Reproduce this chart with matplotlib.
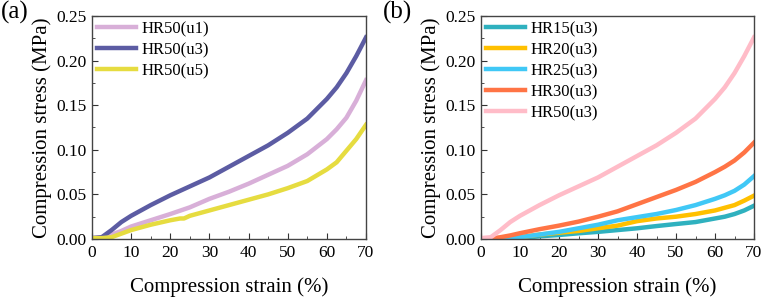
import matplotlib.pyplot as plt
from matplotlib.ticker import MultipleLocator

plt.rcParams['font.family'] = ['Liberation Serif', 'DejaVu Serif']

# panel (a): HR50 with different u
strain_a = [0, 2.5, 5, 7.5, 10, 15, 20, 25, 30, 35, 40, 45, 50, 55, 60, 62.5, 65, 67.5, 70]
u1 = [0.001, 0.002, 0.005, 0.009, 0.014, 0.021, 0.028, 0.0355, 0.045, 0.053, 0.062, 0.072,
      0.082, 0.095, 0.112, 0.123, 0.136, 0.155, 0.178]
u3 = [0.001, 0.002, 0.010, 0.019, 0.026, 0.038, 0.049, 0.059, 0.069, 0.081, 0.093, 0.105,
      0.119, 0.135, 0.157, 0.170, 0.186, 0.205, 0.226]
strain_u5 = [0, 2.5, 5, 7.5, 10, 15, 20, 22.5, 23.5, 25, 30, 35, 40, 45, 50, 55, 60, 62.5, 65, 67.5, 70]
u5 = [0.001, 0.001, 0.002, 0.006, 0.010, 0.016, 0.021, 0.023, 0.023, 0.026, 0.032, 0.038,
      0.044, 0.050, 0.057, 0.065, 0.078, 0.086, 0.099, 0.112, 0.128]

# panel (b): different HR with u3
strain_b = [0, 2.5, 5, 7.5, 10, 15, 20, 25, 30, 35, 40, 45, 50, 55, 60, 62.5, 65, 67.5, 70]
hr15 = [0, 0, 0, 0.0005, 0.001, 0.003, 0.0045, 0.0064, 0.008, 0.010, 0.012, 0.0145, 0.0168,
        0.019, 0.023, 0.025, 0.028, 0.032, 0.0373]
hr20 = [0, 0, 0, 0.001, 0.002, 0.005, 0.007, 0.009, 0.012, 0.015, 0.020, 0.023, 0.025,
        0.028, 0.032, 0.035, 0.038, 0.043, 0.0486]
hr25 = [0, 0, 0.0005, 0.001, 0.002, 0.005, 0.008, 0.012, 0.016, 0.021, 0.0245, 0.028, 0.0325,
        0.038, 0.045, 0.049, 0.054, 0.061, 0.0705]
hr30 = [0, 0.0005, 0.002, 0.004, 0.0065, 0.011, 0.015, 0.0195, 0.025, 0.031, 0.039, 0.047,
        0.055, 0.064, 0.075, 0.081, 0.088, 0.097, 0.108]
hr50 = [0.001, 0.002, 0.010, 0.019, 0.026, 0.038, 0.049, 0.059, 0.069, 0.081, 0.093, 0.105,
        0.119, 0.135, 0.157, 0.170, 0.186, 0.205, 0.226]

fig = plt.figure(figsize=(7.64, 2.97), dpi=100)
ax1 = fig.add_axes([92 / 764, 1 - 239 / 297, 274 / 764, 223 / 297])
ax2 = fig.add_axes([481 / 764, 1 - 239 / 297, 273 / 764, 223 / 297])

lw = 3.2
ax1.plot(strain_a, u1, color='#d8afd8', lw=lw, label='HR50(u1)')
ax1.plot(strain_a, u3, color='#5c5ca3', lw=lw, label='HR50(u3)')
ax1.plot(strain_u5, u5, color='#e6dc40', lw=lw, label='HR50(u5)')

ax2.plot(strain_b, hr15, color='#2fb1bf', lw=lw, label='HR15(u3)')
ax2.plot(strain_b, hr20, color='#ffc000', lw=lw, label='HR20(u3)')
ax2.plot(strain_b, hr25, color='#40c8f6', lw=lw, label='HR25(u3)')
ax2.plot(strain_b, hr30, color='#ff7445', lw=lw, label='HR30(u3)')
ax2.plot(strain_b, hr50, color='#ffbcc8', lw=lw, label='HR50(u3)')

for ax, tag, xoff in [(ax1, '(a)', 0), (ax2, '(b)', 382)]:
    ax.set_xlim(0, 70)
    ax.set_ylim(0, 0.25)
    ax.xaxis.set_major_locator(MultipleLocator(10))
    ax.xaxis.set_minor_locator(MultipleLocator(5))
    ax.yaxis.set_major_locator(MultipleLocator(0.05))
    ax.yaxis.set_minor_locator(MultipleLocator(0.025))
    ax.yaxis.set_major_formatter(plt.FormatStrFormatter('%.2f'))
    ax.tick_params(which='both', direction='in', labelsize=12.5, pad=4, colors='#333333', labelcolor='black')
    ax.tick_params(which='major', length=4)
    ax.tick_params(which='minor', length=2)
    for s in ax.spines.values():
        s.set_color('#444444')
        s.set_linewidth(1.0)
    ax.set_xlabel('Compression strain (%)', fontsize=15, labelpad=12)
    ax.set_ylabel('Compression stress (MPa)', fontsize=15, labelpad=3)
    ax.legend(loc='upper left', frameon=False, fontsize=12, handlelength=2.35,
              handletextpad=0.3, labelspacing=0.3, borderpad=0.3, borderaxespad=0)
    fig.text((xoff + 1) / 764, 1 - 1 / 297, tag, fontsize=18, va='top', ha='left')

fig.savefig('out.png', dpi=100)
